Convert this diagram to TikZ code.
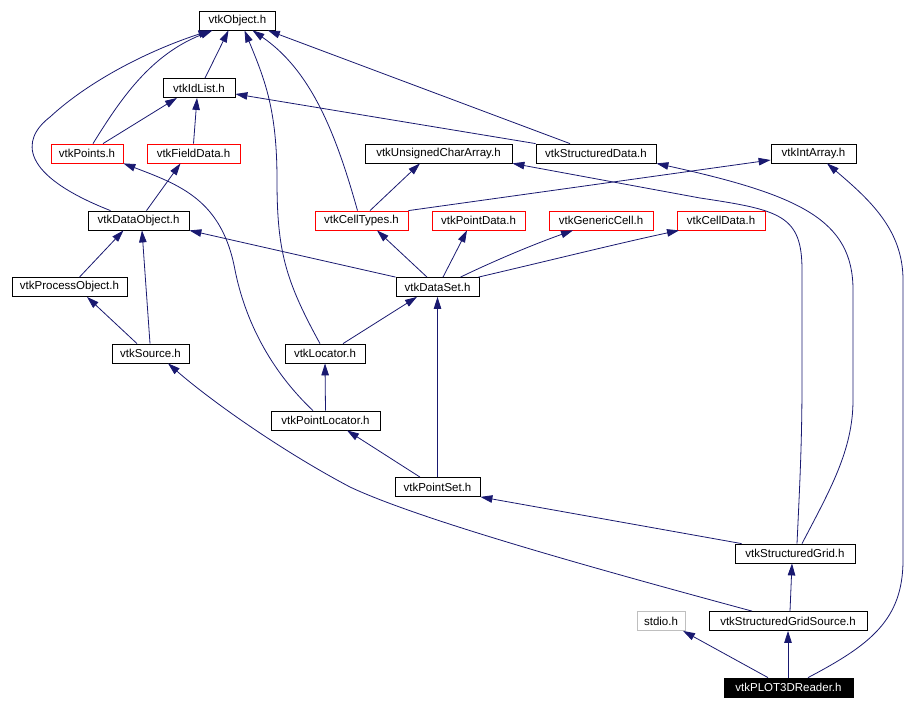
\documentclass[tikz,border=0pt]{standalone}
\usepackage{fontspec}
\setmainfont{Liberation Sans}
\usetikzlibrary{arrows.meta}
\definecolor{edgeblue}{HTML}{191970}
\definecolor{sysgray}{HTML}{BFBFBF}

\begin{document}
\begin{tikzpicture}[x=1pt,y=-1pt,
    hdr/.style={draw=black,line width=0.8pt,minimum height=19pt,inner sep=0pt,
      font=\fontsize{11.5}{13}\selectfont},
    redhdr/.style={hdr,draw=red},
    syshdr/.style={hdr,draw=sysgray},
    tophdr/.style={hdr,fill=black,text=white},
    inc/.style={draw=edgeblue,line width=0.8pt,-{Triangle[length=12pt,width=7.5pt]}}]
    \useasboundingbox (0,0) rectangle (920,709);
    % headers, row by row
    \node[hdr,minimum width=76pt] (obj) at (237.5,20.5) {vtkObject.h};
    \node[hdr,minimum width=72pt] (idl) at (199,88) {vtkIdList.h};
    \node[redhdr,minimum width=72pt] (pts) at (87,153.5) {vtkPoints.h};
    \node[redhdr,minimum width=93pt] (fld) at (193.5,153.5) {vtkFieldData.h};
    \node[hdr,minimum width=147pt] (uca) at (438.5,153.5) {vtkUnsignedCharArray.h};
    \node[hdr,minimum width=120pt] (sdat) at (596,153.5) {vtkStructuredData.h};
    \node[hdr,minimum width=85pt] (iarr) at (813.5,153.5) {vtkIntArray.h};
    \node[hdr,minimum width=101pt] (dobj) at (138.5,220.5) {vtkDataObject.h};
    \node[redhdr,minimum width=93pt] (ctyp) at (361.5,220.5) {vtkCellTypes.h};
    \node[redhdr,minimum width=93pt] (pdat) at (478.5,220.5) {vtkPointData.h};
    \node[redhdr,minimum width=104pt] (gcel) at (601,220.5) {vtkGenericCell.h};
    \node[redhdr,minimum width=88pt] (cdat) at (721,220.5) {vtkCellData.h};
    \node[hdr,minimum width=115pt] (pobj) at (69.5,287) {vtkProcessObject.h};
    \node[hdr,minimum width=83pt] (dset) at (437.5,287) {vtkDataSet.h};
    \node[hdr,minimum width=77pt] (src) at (150.5,353.5) {vtkSource.h};
    \node[hdr,minimum width=80pt] (loc) at (325,353.5) {vtkLocator.h};
    \node[hdr,minimum width=109pt] (ploc) at (325.5,420.5) {vtkPointLocator.h};
    \node[hdr,minimum width=85pt] (pset) at (437.5,487) {vtkPointSet.h};
    \node[hdr,minimum width=120pt] (sgrid) at (795,553.5) {vtkStructuredGrid.h};
    \node[syshdr,minimum width=48pt] (stdio) at (661,621) {stdio.h};
    \node[hdr,minimum width=158pt] (sgsrc) at (788,621) {vtkStructuredGridSource.h};
    \node[tophdr,minimum width=129pt] (rdr) at (788.5,687.5) {vtkPLOT3DReader.h};

    % includes
    \draw[inc] ([xshift=6pt]idl.north) -- ([xshift=-9pt]obj.south);
    \draw[inc] ([xshift=6pt]pts.north) .. controls (120,100) and (150,55) .. ([xshift=-25pt]obj.south);
    \draw[inc] ([xshift=16pt]pts.north) -- ([xshift=-22pt]idl.south);
    \draw[inc] (fld.north) -- ([xshift=-2pt]idl.south);
    \draw[inc] ([xshift=-28pt]dobj.north) .. controls (20,175) and (20,140) .. (50,117)
        .. controls (90,80) and (150,50) .. ([xshift=-27pt]obj.south);
    \draw[inc] ([xshift=8pt]dobj.north) -- ([xshift=-13pt]fld.south);
    \draw[inc] ([xshift=-5pt]loc.north) .. controls (285,280) and (277,250) .. (277,180)
        .. controls (277,110) and (265,80) .. ([xshift=7pt]obj.south);
    \draw[inc] ([xshift=-4pt]ctyp.north) .. controls (335,130) and (310,70) .. ([xshift=15pt]obj.south);
    \draw[inc] ([xshift=-26pt]sdat.north) -- ([xshift=-8pt]obj.south east);
    \draw[inc] (sdat.north west) -- ([yshift=-6pt]idl.east);
    \draw[inc] ([xshift=8.5pt]ctyp.north) -- ([xshift=-18.5pt]uca.south);
    \draw[inc] (ctyp.north east) -- ([yshift=-6.5pt]iarr.west);
    \draw[inc] (dset.north west) -- (dobj.south east);
    \draw[inc] ([xshift=-10.5pt]dset.north) -- ([xshift=15.5pt]ctyp.south);
    \draw[inc] ([xshift=5.5pt]dset.north) -- ([xshift=-11.5pt]pdat.south);
    \draw[inc] ([xshift=23pt]dset.north) .. controls (500,258) and (540,242) .. ([xshift=-28pt]gcel.south);
    \draw[inc] ([xshift=41pt]dset.north) .. controls (560,258) and (620,243) .. ([xshift=-42pt]cdat.south);
    \draw[inc] ([xshift=10pt]pobj.north) -- ([xshift=-15pt]dobj.south);
    \draw[inc] ([xshift=-0.5pt]src.north) -- ([xshift=3.5pt]dobj.south);
    \draw[inc] ([xshift=-13.5pt]src.north) -- ([xshift=17.5pt]pobj.south);
    \draw[inc] ([xshift=18pt]loc.north) -- ([xshift=-20.5pt]dset.south);
    \draw[inc] (ploc.north) -- (loc.south);
    \draw[inc] ([xshift=-12.5pt]ploc.north) .. controls (270,370) and (245,320) .. (235,270)
        .. controls (222,200) and (180,185) .. (pts.south east);
    \draw[inc] ([xshift=-17.5pt]pset.north) -- ([xshift=21.5pt]ploc.south);
    \draw[inc] (pset.north) -- (dset.south);
    \draw[inc] ([xshift=7pt]sgrid.north west) -- (pset.south east);
    \draw[inc] ([xshift=7pt]sgrid.north) .. controls (830,490) and (853,450) .. (853,400)
        -- (853,290) .. controls (853,220) and (800,195) .. (sdat.south east);
    \draw[inc] ([xshift=2pt]sgrid.north) .. controls (800,480) and (802,440) .. (802,380)
        -- (802,270) .. controls (802,215) and (780,210) .. (700,198) -- (uca.south east);
    \draw[inc] ([xshift=-36pt]sgsrc.north) .. controls (600,570) and (420,520) .. (350,487)
        .. controls (280,450) and (210,400) .. ([xshift=17.5pt]src.south);
    \draw[inc] ([xshift=2pt]sgsrc.north) -- ([xshift=-3pt]sgrid.south);
    \draw[inc] ([xshift=-20.5pt]rdr.north) -- ([xshift=22pt]stdio.south);
    \draw[inc] ([xshift=-0.5pt]rdr.north) -- (sgsrc.south);
    \draw[inc] ([xshift=19.5pt]rdr.north) .. controls (870,645) and (903,620) .. (903,560)
        -- (903,280) .. controls (903,230) and (870,200) .. ([xshift=13.5pt]iarr.south);
\end{tikzpicture}
\end{document}
